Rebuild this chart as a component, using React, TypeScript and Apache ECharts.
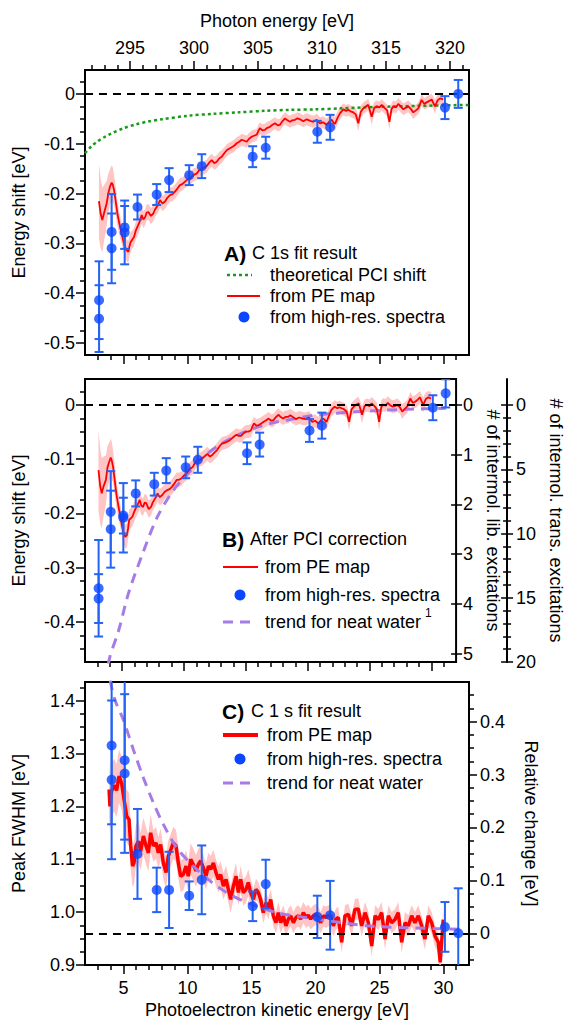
import React, { useEffect, useRef } from "react";
import * as echarts from "echarts";

const FONT = "'Liberation Sans', Arial, Helvetica, sans-serif";

// ---------- axis ranges / tick values ----------
const KE_MIN = 2;
const KE_MAX = 32;
const PHOTON_OFFSET = 289.48;
const KE_MAJOR = [5, 10, 15, 20, 25, 30];
const KE_MINOR = [3, 4, 6, 7, 8, 9, 11, 12, 13, 14, 16, 17, 18, 19, 21, 22, 23, 24, 26, 27, 28, 29, 31];
const PH_MAJOR = [295, 300, 305, 310, 315, 320];
const PH_MINOR = [292, 293, 294, 296, 297, 298, 299, 301, 302, 303, 304, 306, 307, 308, 309, 311, 312, 313, 314, 316, 317, 318, 319, 321];

const A_MIN = -0.524;
const A_MAX = 0.048;
const A_MAJOR = [-0.5, -0.4, -0.3, -0.2, -0.1, 0];
const A_MINOR = [-0.475, -0.45, -0.425, -0.375, -0.35, -0.325, -0.275, -0.25, -0.225, -0.175, -0.15, -0.125, -0.075, -0.05, -0.025, 0.025];
const B_MIN = -0.474;
const B_MAX = 0.048;
const B_MAJOR = [-0.4, -0.3, -0.2, -0.1, 0];
const B_MINOR = [-0.45, -0.425, -0.375, -0.35, -0.325, -0.275, -0.25, -0.225, -0.175, -0.15, -0.125, -0.075, -0.05, -0.025, 0.025];
const LIB_STEP = 0.09168; // eV per librational excitation
const LIB_MAJOR = [0, 1, 2, 3, 4, 5];
const TRANS_STEP = 0.0237; // eV per translational excitation
const TRANS_MAJOR = [0, 5, 10, 15, 20];
const TRANS_MINOR = [1, 2, 3, 4, 6, 7, 8, 9, 11, 12, 13, 14, 16, 17, 18, 19];
const C_MIN = 0.9;
const C_MAX = 1.435;
const C_MAJOR = [0.9, 1.0, 1.1, 1.2, 1.3, 1.4];
const C_MINOR = [0.925, 0.95, 0.975, 1.025, 1.05, 1.075, 1.125, 1.15, 1.175, 1.225, 1.25, 1.275, 1.325, 1.35, 1.375, 1.425];
const FWHM_REF = 0.96;
const REL_MAJOR = [0, 0.1, 0.2, 0.3, 0.4];
const REL_MINOR = [-0.05, -0.025, 0.025, 0.05, 0.075, 0.125, 0.15, 0.175, 0.225, 0.25, 0.275, 0.325, 0.35, 0.375, 0.425, 0.45];

// ---------- data: PE map (panels A, B) ----------
const KE_PE = [
  3.09, 3.22, 3.35, 3.5, 3.69, 3.82, 3.95, 4.08, 4.17, 4.27,
  4.4, 4.53, 4.7, 4.86, 5.0, 5.13, 5.26, 5.39, 5.48, 5.57,
  5.7, 5.83, 5.96, 6.09, 6.25, 6.43, 6.56, 6.69, 6.82, 6.95,
  7.15, 7.34, 7.47, 7.6, 7.73, 7.86, 8.05, 8.25, 8.45, 8.64,
  8.84, 9.03, 9.22, 9.42, 9.6, 9.81, 10.0, 10.2, 10.45, 10.72,
  10.9, 11.11, 11.3, 11.5, 11.7, 11.9, 12.1, 12.29, 12.5, 12.68,
  12.88, 13.07, 13.25, 13.46, 13.65, 13.85, 14.05, 14.24, 14.45, 14.63,
  14.82, 15.02, 15.2, 15.41, 15.55, 15.67, 15.85, 16.06, 16.25, 16.45,
  16.65, 16.84, 17.05, 17.23, 17.45, 17.63, 17.82, 18.02, 18.2, 18.41,
  18.6, 18.8, 19.05, 19.32, 19.6, 19.84, 20.1, 20.36, 20.6, 20.88,
  21.1, 21.27, 21.4, 21.53, 21.75, 21.92, 22.18, 22.4, 22.57, 22.75,
  22.96, 23.15, 23.35, 23.55, 23.74, 23.95, 24.13, 24.4, 24.6, 24.79,
  25.0, 25.18, 25.44, 25.6, 25.78, 25.95, 26.09, 26.3, 26.48, 26.7,
  26.87, 27.05, 27.26, 27.45, 27.65, 27.85, 28.04, 28.3, 28.5, 28.69,
  28.9, 29.08, 29.34, 29.55, 29.73, 29.99,
];
const SHIFT_A_PE = [
  -0.215, -0.240, -0.253, -0.238, -0.220, -0.200, -0.186, -0.178, -0.182, -0.193,
  -0.215, -0.240, -0.262, -0.280, -0.296, -0.307, -0.314, -0.317, -0.305, -0.297,
  -0.292, -0.287, -0.275, -0.267, -0.258, -0.243, -0.252, -0.248, -0.238, -0.237,
  -0.245, -0.240, -0.232, -0.227, -0.222, -0.213, -0.220, -0.216, -0.208, -0.203,
  -0.201, -0.196, -0.190, -0.183, -0.181, -0.176, -0.172, -0.170, -0.163, -0.160,
  -0.154, -0.150, -0.148, -0.145, -0.138, -0.133, -0.139, -0.136, -0.129, -0.126,
  -0.119, -0.113, -0.110, -0.107, -0.104, -0.099, -0.096, -0.092, -0.094, -0.096,
  -0.090, -0.086, -0.084, -0.082, -0.074, -0.069, -0.073, -0.072, -0.068, -0.066,
  -0.062, -0.059, -0.063, -0.062, -0.054, -0.049, -0.053, -0.056, -0.053, -0.052,
  -0.049, -0.051, -0.055, -0.051, -0.054, -0.056, -0.052, -0.059, -0.057, -0.062,
  -0.055, -0.052, -0.057, -0.060, -0.047, -0.039, -0.031, -0.034, -0.032, -0.035,
  -0.037, -0.041, -0.059, -0.036, -0.029, -0.025, -0.022, -0.046, -0.028, -0.025,
  -0.027, -0.022, -0.029, -0.033, -0.056, -0.030, -0.025, -0.027, -0.020, -0.026,
  -0.031, -0.028, -0.025, -0.030, -0.037, -0.033, -0.029, -0.012, -0.020, -0.017,
  -0.014, -0.011, -0.025, -0.013, -0.009, -0.011,
];
const SHIFT_B_PE = [
  -0.120, -0.148, -0.163, -0.150, -0.138, -0.115, -0.105, -0.097, -0.103, -0.114,
  -0.138, -0.163, -0.186, -0.206, -0.224, -0.237, -0.243, -0.240, -0.228, -0.212,
  -0.209, -0.206, -0.198, -0.191, -0.184, -0.175, -0.186, -0.188, -0.180, -0.181,
  -0.192, -0.188, -0.180, -0.175, -0.170, -0.163, -0.170, -0.166, -0.160, -0.157,
  -0.155, -0.151, -0.145, -0.138, -0.138, -0.135, -0.130, -0.126, -0.119, -0.114,
  -0.106, -0.101, -0.101, -0.098, -0.094, -0.090, -0.095, -0.092, -0.087, -0.083,
  -0.076, -0.071, -0.070, -0.068, -0.066, -0.062, -0.058, -0.055, -0.057, -0.057,
  -0.052, -0.049, -0.049, -0.047, -0.039, -0.034, -0.038, -0.037, -0.034, -0.031,
  -0.028, -0.025, -0.029, -0.028, -0.022, -0.018, -0.022, -0.025, -0.022, -0.022,
  -0.019, -0.022, -0.026, -0.023, -0.025, -0.026, -0.023, -0.031, -0.029, -0.034,
  -0.027, -0.025, -0.028, -0.031, -0.018, -0.009, -0.003, -0.006, -0.004, -0.006,
  -0.008, -0.012, -0.031, -0.008, -0.003, 0.001, 0.003, -0.018, -0.002, 0.000,
  -0.002, 0.003, -0.003, -0.008, -0.031, -0.004, 0.001, -0.001, 0.004, -0.001,
  -0.003, -0.002, 0.000, -0.004, -0.012, -0.007, -0.003, 0.012, 0.004, 0.006,
  0.010, 0.014, 0.000, 0.011, 0.014, 0.012,
];
const BAND_PE = [
  0.075, 0.070, 0.065, 0.055, 0.045, 0.040, 0.035, 0.035, 0.035, 0.030,
  0.028, 0.025, 0.022, 0.020, 0.020, 0.020, 0.022, 0.022, 0.020, 0.020,
  0.018, 0.018, 0.018, 0.018, 0.017, 0.017, 0.017, 0.016, 0.016, 0.016,
  0.016, 0.016, 0.015, 0.015, 0.015, 0.015, 0.015, 0.015, 0.014, 0.014,
  0.014, 0.014, 0.014, 0.014, 0.013, 0.013, 0.013, 0.013, 0.013, 0.013,
  0.013, 0.013, 0.013, 0.013, 0.013, 0.013, 0.013, 0.013, 0.013, 0.013,
  0.012, 0.012, 0.012, 0.012, 0.012, 0.012, 0.012, 0.012, 0.012, 0.012,
  0.012, 0.012, 0.012, 0.012, 0.012, 0.012, 0.012, 0.012, 0.012, 0.012,
  0.012, 0.012, 0.012, 0.012, 0.012, 0.012, 0.012, 0.012, 0.012, 0.012,
  0.012, 0.012, 0.012, 0.012, 0.012, 0.012, 0.012, 0.012, 0.012, 0.012,
  0.012, 0.012, 0.012, 0.014, 0.012, 0.012, 0.012, 0.012, 0.012, 0.012,
  0.012, 0.012, 0.016, 0.012, 0.012, 0.012, 0.012, 0.016, 0.012, 0.012,
  0.012, 0.012, 0.012, 0.012, 0.016, 0.012, 0.012, 0.012, 0.012, 0.012,
  0.012, 0.012, 0.012, 0.012, 0.014, 0.012, 0.012, 0.012, 0.012, 0.012,
  0.012, 0.012, 0.014, 0.012, 0.012, 0.012,
];

// theoretical PCI shift (panel A)
const KE_PCI = [2, 2.5, 3, 3.5, 4, 5, 6, 7, 8, 10, 12, 14, 16, 18, 20, 22, 25, 28, 32];
const SHIFT_PCI = [-0.119, -0.105, -0.095, -0.087, -0.080, -0.069, -0.061, -0.055, -0.051, -0.044, -0.040, -0.037, -0.034, -0.032, -0.031, -0.029, -0.026, -0.024, -0.022];

// trend for neat water (panel B)
const KE_TREND_B = [3.75, 3.95, 4.73, 5.52, 6.56, 7.86, 9.16, 10.46, 11.77, 13.07, 14.37, 15.67, 16.97, 18.28, 20.88, 25.0, 28.0, 31.2];
const SHIFT_TREND_B = [-0.51, -0.47, -0.415, -0.347, -0.28, -0.206, -0.157, -0.123, -0.092, -0.071, -0.055, -0.043, -0.034, -0.028, -0.018, -0.011, -0.008, -0.006];

// high-resolution spectra (panels A, B)
const KE_HR_AB = [3.1, 3.1, 4.08, 4.08, 5.1, 5.1, 6.1, 7.6, 8.57, 10.14, 11.12, 15.1, 16.12, 20.15, 21.15, 30.12, 31.16];
const SHIFT_A_HR = [-0.414, -0.451, -0.277, -0.310, -0.268, -0.278, -0.227, -0.202, -0.173, -0.163, -0.145, -0.126, -0.108, -0.076, -0.067, -0.0275, 0.0];
const ERR_A_HR = [0.078, 0.067, 0.076, 0.070, 0.043, 0.064, 0.025, 0.021, 0.024, 0.020, 0.024, 0.021, 0.022, 0.022, 0.025, 0.023, 0.028];
const SHIFT_B_HR = [-0.338, -0.357, -0.197, -0.229, -0.208, -0.204, -0.163, -0.146, -0.121, -0.115, -0.101, -0.089, -0.073, -0.047, -0.038, -0.005, 0.0215];
const ERR_B_HR = [0.089, 0.045, 0.075, 0.071, 0.064, 0.033, 0.024, 0.021, 0.023, 0.020, 0.024, 0.020, 0.022, 0.021, 0.024, 0.023, 0.026];

// ---------- data: panel C ----------
const KE_C_PE = [
  3.88, 3.95, 4.08, 4.27, 4.47, 4.66, 4.86, 5.05, 5.26, 5.44,
  5.57, 5.72, 5.83, 5.98, 6.17, 6.35, 6.56, 6.77, 6.95, 7.13,
  7.34, 7.55, 7.73, 7.91, 8.12, 8.33, 8.51, 8.72, 8.90, 9.11,
  9.29, 9.47, 9.68, 9.89, 10.07, 10.26, 10.46, 10.67, 10.85, 11.04,
  11.24, 11.45, 11.64, 11.82, 12.03, 12.23, 12.42, 12.60, 12.81, 13.02,
  13.20, 13.38, 13.59, 13.80, 13.98, 14.16, 14.37, 14.58, 14.76, 14.94,
  15.15, 15.36, 15.54, 15.72, 15.93, 16.14, 16.32, 16.51, 16.71, 16.92,
  17.10, 17.29, 17.49, 17.70, 17.89, 18.07, 18.28, 18.48, 18.67, 18.85,
  19.06, 19.27, 19.45, 19.63, 19.84, 20.05, 20.23, 20.41, 20.62, 20.83,
  21.01, 21.19, 21.40, 21.61, 21.79, 22.05, 22.31, 22.57, 22.83, 23.09,
  23.35, 23.61, 23.88, 24.14, 24.40, 24.66, 24.92, 25.18, 25.44, 25.70,
  25.96, 26.22, 26.48, 26.74, 27.00, 27.26, 27.52, 27.78, 28.04, 28.30,
  28.56, 28.82, 29.08, 29.34, 29.60, 29.75, 29.99,
];
const FWHM_C_PE = [
  1.232, 1.200, 1.229, 1.240, 1.230, 1.257, 1.244, 1.213, 1.181, 1.175,
  1.125, 1.087, 1.093, 1.125, 1.134, 1.115, 1.144, 1.125, 1.112, 1.150,
  1.125, 1.131, 1.112, 1.128, 1.093, 1.075, 1.106, 1.119, 1.131, 1.125,
  1.093, 1.068, 1.071, 1.087, 1.068, 1.100, 1.090, 1.078, 1.090, 1.097,
  1.084, 1.068, 1.087, 1.081, 1.093, 1.075, 1.062, 1.071, 1.049, 1.062,
  1.043, 1.024, 1.049, 1.068, 1.037, 1.062, 1.037, 1.043, 1.056, 1.037,
  1.024, 1.043, 1.037, 1.024, 0.999, 1.018, 1.006, 1.024, 0.993, 0.980,
  0.999, 0.980, 0.993, 0.974, 0.987, 0.993, 0.980, 0.990, 0.993, 0.987,
  0.999, 0.990, 0.994, 0.987, 0.993, 0.996, 0.990, 0.980, 0.993, 0.990,
  0.993, 0.993, 0.974, 0.987, 0.990, 0.943, 0.993, 0.996, 0.974, 1.005,
  1.006, 0.974, 0.999, 0.980, 0.936, 0.993, 0.986, 0.999, 0.949, 0.993,
  0.980, 0.986, 0.999, 0.943, 0.980, 0.974, 0.993, 0.980, 0.993, 0.974,
  0.949, 0.993, 0.980, 0.955, 0.943, 0.905, 0.986,
];
const BAND_C_PE = [
  0.050, 0.050, 0.050, 0.050, 0.050, 0.050, 0.050, 0.050, 0.050, 0.050,
  0.045, 0.040, 0.040, 0.040, 0.040, 0.035, 0.035, 0.035, 0.035, 0.035,
  0.030, 0.030, 0.030, 0.030, 0.030, 0.030, 0.030, 0.030, 0.030, 0.030,
  0.030, 0.030, 0.030, 0.030, 0.030, 0.030, 0.030, 0.030, 0.030, 0.030,
  0.025, 0.025, 0.025, 0.025, 0.025, 0.025, 0.025, 0.025, 0.025, 0.025,
  0.025, 0.025, 0.025, 0.025, 0.025, 0.025, 0.025, 0.025, 0.025, 0.025,
  0.020, 0.020, 0.020, 0.020, 0.020, 0.020, 0.020, 0.020, 0.020, 0.020,
  0.020, 0.020, 0.020, 0.020, 0.020, 0.020, 0.020, 0.020, 0.020, 0.020,
  0.020, 0.020, 0.020, 0.020, 0.020, 0.020, 0.020, 0.020, 0.020, 0.020,
  0.020, 0.020, 0.020, 0.020, 0.020, 0.020, 0.020, 0.020, 0.020, 0.020,
  0.020, 0.020, 0.020, 0.020, 0.020, 0.020, 0.020, 0.020, 0.020, 0.020,
  0.020, 0.020, 0.020, 0.020, 0.020, 0.020, 0.020, 0.020, 0.020, 0.020,
  0.020, 0.020, 0.020, 0.020, 0.020, 0.020, 0.020,
];
const KE_TREND_C = [3.8, 3.95, 4.34, 4.99, 5.78, 6.56, 7.34, 8.12, 9.16, 10.46, 11.77, 13.07, 14.37, 15.67, 16.97, 18.28, 20.88, 24.0, 26.6, 29.2, 31.56];
const FWHM_TREND_C = [1.47, 1.44, 1.401, 1.364, 1.307, 1.254, 1.207, 1.166, 1.122, 1.087, 1.059, 1.037, 1.021, 1.009, 0.999, 0.993, 0.984, 0.974, 0.971, 0.969, 0.9675];
const KE_HR_C = [4.08, 4.08, 5.1, 5.1, 6.1, 7.6, 8.57, 10.14, 11.12, 15.1, 16.12, 20.15, 21.15, 30.12, 31.16];
const FWHM_HR = [1.315, 1.250, 1.287, 1.262, 1.110, 1.042, 1.042, 1.031, 1.061, 1.011, 1.053, 0.991, 0.994, 0.972, 0.960];
const ERR_C_HR = [0.149, 0.150, 0.150, 0.150, 0.085, 0.042, 0.072, 0.027, 0.065, 0.028, 0.046, 0.040, 0.065, 0.047, 0.085];

// ---------- styles ----------
const RED = "#ff0000";
const PINK = "#ffc4c4";
const DOT = "#0a46ff";
const BAR = "#2563f5";
const GREEN = "#1a9a1a";
const PURPLE = "#a77be6";

const nameStyle = { fontSize: 18, fontFamily: FONT, color: "#000" };

const baseAxis = (o: any) => ({
  type: "value",
  splitLine: { show: false },
  axisLine: { show: false, onZero: false },
  axisLabel: { show: false },
  axisTick: { show: false },
  ...o,
});
const ticks = (values: number[], length: number, inside = false) => ({
  show: true,
  inside,
  length,
  customValues: values,
  lineStyle: { color: "#000", width: 1.5 },
});
const labels = (values: number[], margin: number, fmt?: (v: number) => string) => ({
  show: true,
  customValues: values,
  margin,
  color: "#000",
  fontSize: 18,
  fontFamily: FONT,
  formatter: fmt,
});
const fmt1 = (v: number) => (v === 0 ? "0" : v.toFixed(1));

const pairs = (xs: number[], ys: number[]) => xs.map((x, i) => [x, ys[i]]);

// uncertainty band: one polygon through (x, y + hw) and back through (x, y - hw)
function band(xi: number, yi: number, xs: number[], ys: number[], hw: number[]) {
  return {
    type: "custom",
    xAxisIndex: xi,
    yAxisIndex: yi,
    clip: true,
    silent: true,
    z: 1,
    data: pairs(xs, ys),
    encode: { x: 0, y: 1 },
    renderItem: (params: any, api: any) => {
      if (params.dataIndex !== 0) return null;
      const pts: number[][] = [];
      for (let i = 0; i < xs.length; i++) pts.push(api.coord([xs[i], ys[i] + hw[i]]));
      for (let i = xs.length - 1; i >= 0; i--) pts.push(api.coord([xs[i], ys[i] - hw[i]]));
      return { type: "polygon", shape: { points: pts }, style: { fill: PINK, stroke: "none" } };
    },
  };
}

function errorBars(xi: number, yi: number, xs: number[], ys: number[], es: number[]) {
  return {
    type: "custom",
    xAxisIndex: xi,
    yAxisIndex: yi,
    clip: true,
    z: 4,
    silent: true,
    data: xs.map((x, i) => [x, ys[i], es[i]]),
    encode: { x: 0, y: 1 },
    renderItem: (params: any, api: any) => {
      const x = api.value(0);
      const y = api.value(1);
      const e = api.value(2);
      const t = api.coord([x, y + e]);
      const b = api.coord([x, y - e]);
      const w = 4.5;
      const style = { stroke: BAR, lineWidth: 2 };
      return {
        type: "group",
        children: [
          { type: "line", shape: { x1: t[0], y1: t[1], x2: b[0], y2: b[1] }, style },
          { type: "line", shape: { x1: t[0] - w, y1: t[1], x2: t[0] + w, y2: t[1] }, style },
          { type: "line", shape: { x1: b[0] - w, y1: b[1], x2: b[0] + w, y2: b[1] }, style },
        ],
      };
    },
  };
}

const zeroLine = (value: number) => ({
  silent: true,
  symbol: "none",
  label: { show: false },
  lineStyle: { color: "#000", width: 2, type: [8, 6] },
  data: [{ yAxis: value }],
});

function txt(x: number, y: number, text: string, size = 18, weight = "normal") {
  return {
    type: "text",
    x,
    y,
    z: 100,
    style: {
      text,
      fill: "#000",
      font: `${weight} ${size}px ${FONT}`,
      textAlign: "left",
      textVerticalAlign: "middle",
      align: "left",
      verticalAlign: "middle",
    },
  };
}
function seg(x1: number, x2: number, y: number, stroke: string, lineWidth: number, dash?: number[]) {
  return {
    type: "line",
    z: 100,
    shape: { x1, y1: y, x2, y2: y },
    style: { stroke, lineWidth, lineDash: dash },
  };
}
function dot(cx: number, cy: number) {
  return { type: "circle", z: 100, shape: { cx, cy, r: 5.5 }, style: { fill: DOT } };
}

function buildOption(): any {
  const gridStyle = { show: true, borderColor: "#000", borderWidth: 2, backgroundColor: "transparent", containLabel: false };
  const ke = { min: KE_MIN, max: KE_MAX };
  return {
    animation: false,
    backgroundColor: "#fff",
    textStyle: { fontFamily: FONT },
    grid: [
      { ...gridStyle, left: 85, top: 70, width: 384, height: 285 },
      { ...gridStyle, left: 85, top: 379, width: 384, height: 283 },
      { ...gridStyle, left: 85, top: 682, width: 384, height: 283 },
    ],
    xAxis: [
      baseAxis({ gridIndex: 0, position: "bottom", ...ke, axisTick: ticks(KE_MAJOR, 9) }),
      baseAxis({ gridIndex: 0, position: "bottom", ...ke, axisTick: ticks(KE_MINOR, 5) }),
      baseAxis({
        gridIndex: 0, position: "top", min: KE_MIN + PHOTON_OFFSET, max: KE_MAX + PHOTON_OFFSET,
        axisTick: ticks(PH_MAJOR, 9), axisLabel: labels(PH_MAJOR, 13),
        name: "Photon energy [eV]", nameLocation: "middle", nameGap: 40, nameTextStyle: nameStyle,
      }),
      baseAxis({ gridIndex: 0, position: "top", min: KE_MIN + PHOTON_OFFSET, max: KE_MAX + PHOTON_OFFSET, axisTick: ticks(PH_MINOR, 5) }),
      baseAxis({ gridIndex: 1, position: "bottom", ...ke, axisTick: ticks(KE_MAJOR, 9) }),
      baseAxis({ gridIndex: 1, position: "bottom", ...ke, axisTick: ticks(KE_MINOR, 5) }),
      baseAxis({
        gridIndex: 2, position: "bottom", ...ke, axisTick: ticks(KE_MAJOR, 9), axisLabel: labels(KE_MAJOR, 14),
        name: "Photoelectron kinetic energy [eV]", nameLocation: "middle", nameGap: 36, nameTextStyle: nameStyle,
      }),
      baseAxis({ gridIndex: 2, position: "bottom", ...ke, axisTick: ticks(KE_MINOR, 5) }),
    ],
    yAxis: [
      // 0,1: panel A left
      baseAxis({
        gridIndex: 0, position: "left", min: A_MIN, max: A_MAX, axisTick: ticks(A_MAJOR, 9), axisLabel: labels(A_MAJOR, 10, fmt1),
        name: "Energy shift [eV]", nameLocation: "middle", nameGap: 57, nameTextStyle: nameStyle,
      }),
      baseAxis({ gridIndex: 0, position: "left", min: A_MIN, max: A_MAX, axisTick: ticks(A_MINOR, 5) }),
      // 2,3: panel B left
      baseAxis({
        gridIndex: 1, position: "left", min: B_MIN, max: B_MAX, axisTick: ticks(B_MAJOR, 9), axisLabel: labels(B_MAJOR, 10, fmt1),
        name: "Energy shift [eV]", nameLocation: "middle", nameGap: 57, nameTextStyle: nameStyle,
      }),
      baseAxis({ gridIndex: 1, position: "left", min: B_MIN, max: B_MAX, axisTick: ticks(B_MINOR, 5) }),
      // 4,5: librational excitations
      baseAxis({
        gridIndex: 1, position: "right", inverse: true, min: -B_MAX / LIB_STEP, max: -B_MIN / LIB_STEP,
        axisTick: ticks(LIB_MAJOR, 6), axisLabel: labels(LIB_MAJOR, 7),
        name: "# of intermol. lib. excitations", nameLocation: "middle", nameGap: 26, nameRotate: -90, nameTextStyle: nameStyle,
      }),
      baseAxis({ gridIndex: 1, position: "right", inverse: true, min: -B_MAX / LIB_STEP, max: -B_MIN / LIB_STEP, axisTick: ticks(LIB_MAJOR, 5, true) }),
      // 6-9: translational excitations
      baseAxis({
        gridIndex: 1, position: "right", offset: 51, inverse: true, min: -B_MAX / TRANS_STEP, max: -B_MIN / TRANS_STEP,
        axisLine: { show: true, onZero: false, lineStyle: { color: "#000", width: 2 } },
        axisTick: ticks(TRANS_MAJOR, 6), axisLabel: labels(TRANS_MAJOR, 9),
        name: "# of intermol. trans. excitations", nameLocation: "middle", nameGap: 37, nameRotate: -90, nameTextStyle: nameStyle,
      }),
      baseAxis({ gridIndex: 1, position: "right", offset: 51, inverse: true, min: -B_MAX / TRANS_STEP, max: -B_MIN / TRANS_STEP, axisTick: ticks(TRANS_MAJOR, 6, true) }),
      baseAxis({ gridIndex: 1, position: "right", offset: 51, inverse: true, min: -B_MAX / TRANS_STEP, max: -B_MIN / TRANS_STEP, axisTick: ticks(TRANS_MINOR, 4) }),
      baseAxis({ gridIndex: 1, position: "right", offset: 51, inverse: true, min: -B_MAX / TRANS_STEP, max: -B_MIN / TRANS_STEP, axisTick: ticks(TRANS_MINOR, 4, true) }),
      // 10,11: panel C left
      baseAxis({
        gridIndex: 2, position: "left", min: C_MIN, max: C_MAX, axisTick: ticks(C_MAJOR, 9), axisLabel: labels(C_MAJOR, 10, (v: number) => v.toFixed(1)),
        name: "Peak FWHM [eV]", nameLocation: "middle", nameGap: 57, nameTextStyle: nameStyle,
      }),
      baseAxis({ gridIndex: 2, position: "left", min: C_MIN, max: C_MAX, axisTick: ticks(C_MINOR, 5) }),
      // 12,13: panel C right
      baseAxis({
        gridIndex: 2, position: "right", min: C_MIN - FWHM_REF, max: C_MAX - FWHM_REF,
        axisTick: ticks(REL_MAJOR, 8), axisLabel: labels(REL_MAJOR, 11, fmt1),
        name: "Relative change [eV]", nameLocation: "middle", nameGap: 53, nameRotate: -90, nameTextStyle: nameStyle,
      }),
      baseAxis({ gridIndex: 2, position: "right", min: C_MIN - FWHM_REF, max: C_MAX - FWHM_REF, axisTick: ticks(REL_MINOR, 5) }),
    ],
    series: [
      // ---- panel A ----
      band(0, 0, KE_PE, SHIFT_A_PE, BAND_PE),
      {
        type: "line", xAxisIndex: 0, yAxisIndex: 0, data: pairs(KE_PCI, SHIFT_PCI), symbol: "none", smooth: 0.3,
        lineStyle: { color: GREEN, width: 2.5, type: [3, 3] }, z: 2,
      },
      { type: "line", xAxisIndex: 0, yAxisIndex: 0, data: pairs(KE_PE, SHIFT_A_PE), symbol: "none", lineStyle: { color: RED, width: 1.8 }, z: 3 },
      errorBars(0, 0, KE_HR_AB, SHIFT_A_HR, ERR_A_HR),
      {
        type: "scatter", xAxisIndex: 0, yAxisIndex: 0, data: pairs(KE_HR_AB, SHIFT_A_HR), symbolSize: 10,
        itemStyle: { color: DOT }, z: 5, markLine: zeroLine(0),
      },
      // ---- panel B ----
      band(4, 2, KE_PE, SHIFT_B_PE, BAND_PE),
      {
        type: "line", xAxisIndex: 4, yAxisIndex: 2, data: pairs(KE_TREND_B, SHIFT_TREND_B), symbol: "none", smooth: 0.3,
        lineStyle: { color: PURPLE, width: 3, type: [10, 7] }, z: 2,
      },
      { type: "line", xAxisIndex: 4, yAxisIndex: 2, data: pairs(KE_PE, SHIFT_B_PE), symbol: "none", lineStyle: { color: RED, width: 1.8 }, z: 3 },
      errorBars(4, 2, KE_HR_AB, SHIFT_B_HR, ERR_B_HR),
      {
        type: "scatter", xAxisIndex: 4, yAxisIndex: 2, data: pairs(KE_HR_AB, SHIFT_B_HR), symbolSize: 10,
        itemStyle: { color: DOT }, z: 5, markLine: zeroLine(0),
      },
      // ---- panel C ----
      band(6, 10, KE_C_PE, FWHM_C_PE, BAND_C_PE),
      { type: "line", xAxisIndex: 6, yAxisIndex: 10, data: pairs(KE_C_PE, FWHM_C_PE), symbol: "none", lineStyle: { color: RED, width: 3.5 }, z: 3 },
      {
        type: "line", xAxisIndex: 6, yAxisIndex: 10, data: pairs(KE_TREND_C, FWHM_TREND_C), symbol: "none", smooth: 0.3,
        lineStyle: { color: PURPLE, width: 3, type: [10, 7] }, z: 3,
      },
      errorBars(6, 10, KE_HR_C, FWHM_HR, ERR_C_HR),
      {
        type: "scatter", xAxisIndex: 6, yAxisIndex: 10, data: pairs(KE_HR_C, FWHM_HR), symbolSize: 10,
        itemStyle: { color: DOT }, z: 5, markLine: zeroLine(FWHM_REF),
      },
    ],
    graphic: [
      // legend A
      txt(224, 253, "A)", 21, "bold"),
      txt(252, 253, "C 1s fit result"),
      seg(227, 252, 275, GREEN, 2.5, [3, 3]),
      txt(270, 275, "theoretical PCI shift"),
      seg(227, 260, 296, RED, 2),
      txt(270, 296, "from PE map"),
      dot(244, 317),
      txt(270, 317, "from high-res. spectra"),
      // legend B
      txt(222, 539, "B)", 21, "bold"),
      txt(250, 539, "After PCI correction"),
      seg(223, 258, 567, RED, 2),
      txt(265, 567, "from PE map"),
      dot(240, 595),
      txt(265, 595, "from high-res. spectra"),
      seg(223, 252, 622, PURPLE, 3, [10, 7]),
      txt(265, 622, "trend for neat water"),
      txt(425, 613, "1", 12),
      // legend C
      txt(222, 711, "C)", 21, "bold"),
      txt(251, 711, "C 1 s fit result"),
      seg(223, 258, 735, RED, 4),
      txt(267, 735, "from PE map"),
      dot(240, 759),
      txt(267, 759, "from high-res. spectra"),
      seg(223, 252, 783, PURPLE, 3, [10, 7]),
      txt(267, 783, "trend for neat water"),
    ],
  };
}

export default function App() {
  const ref = useRef<HTMLDivElement>(null);
  useEffect(() => {
    if (!ref.current) return;
    const chart = echarts.init(ref.current, null, { renderer: "svg" });
    chart.setOption(buildOption());
    return () => chart.dispose();
  }, []);
  return (
    <div
      ref={ref}
      style={{ position: "absolute", left: 0, top: 0, width: 573, height: 1020, background: "#fff" }}
    />
  );
}
